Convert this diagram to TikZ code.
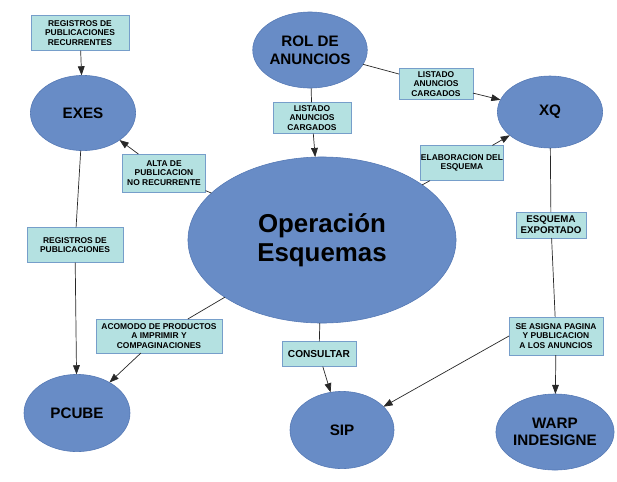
\documentclass[tikz,border=0pt]{standalone}
\usepackage{fontspec}
\setmainfont{Liberation Sans}
\definecolor{ovalblue}{RGB}{104, 140, 198}
\definecolor{ovaledge}{RGB}{84, 120, 180}
\definecolor{tagfill}{RGB}{180, 225, 225}
\definecolor{tagedge}{RGB}{118, 158, 202}
\definecolor{wireclr}{RGB}{40, 40, 40}
\usetikzlibrary{shapes.geometric, arrows.meta, positioning}

\begin{document}
\begin{tikzpicture}[x=0.025cm, y=-0.025cm,
    oval/.style={draw=ovaledge, fill=ovalblue, ellipse, inner sep=0pt, outer sep=0pt, align=center,
      font=\fontsize{10.8}{12.5}\selectfont\bfseries},
    tag/.style={draw=tagedge, fill=tagfill, rectangle, inner sep=0pt, outer sep=0pt, align=center,
      font=\fontsize{6}{6.8}\selectfont\bfseries},
    wire/.style={draw=wireclr, line width=0.5pt},
    arr/.style={wire, -{Triangle[length=6.5pt, width=4.8pt]}}]
  \useasboundingbox (0, 0) rectangle (617, 481);

  % Systems
  \node[oval, minimum width=2.63cm, minimum height=1.88cm] (exes) at (83, 113) {EXES};
  \node[oval, minimum width=2.65cm, minimum height=1.9cm] (rol) at (310, 50) {ROL DE\\ANUNCIOS};
  \node[oval, minimum width=2.63cm, minimum height=1.8cm] (xq) at (550, 112) {XQ};
  \node[oval, minimum width=6.7cm, minimum height=4.15cm, font=\fontsize{18.4}{20.5}\selectfont\bfseries] (oper) at (322, 240) {Operación\\Esquemas};
  \node[oval, minimum width=2.65cm, minimum height=1.93cm] (pcube) at (77, 413) {PCUBE};
  \node[oval, minimum width=2.6cm, minimum height=1.93cm] (sip) at (342, 430) {SIP};
  \node[oval, minimum width=2.63cm, minimum height=1.9cm] (warp) at (555, 432) {WARP\\INDESIGNE};

  % Flow labels
  \node[tag, minimum width=2.45cm, minimum height=0.88cm] (regrec) at (80, 33) {REGISTROS DE\\PUBLICACIONES\\RECURRENTES};
  \node[tag, minimum width=2.08cm, minimum height=0.95cm] (alta) at (164, 173) {ALTA DE\\PUBLICACION\\NO RECURRENTE};
  \node[tag, minimum width=1.95cm, minimum height=0.78cm] (lstmid) at (312, 118) {LISTADO\\ANUNCIOS\\CARGADOS};
  \node[tag, minimum width=1.85cm, minimum height=0.78cm] (lstxq) at (436, 84) {LISTADO\\ANUNCIOS\\CARGADOS};
  \node[tag, minimum width=2.08cm, minimum height=0.88cm] (elab) at (462, 163) {ELABORACION DEL\\ESQUEMA};
  \node[tag, minimum width=1.75cm, minimum height=0.65cm, font=\fontsize{6.9}{7.8}\selectfont\bfseries] (esqexp) at (551, 225) {ESQUEMA\\EXPORTADO};
  \node[tag, minimum width=2.4cm, minimum height=0.88cm] (regpub) at (75, 245) {REGISTROS DE\\PUBLICACIONES};
  \node[tag, minimum width=3.15cm, minimum height=0.85cm] (acomodo) at (159, 336) {ACOMODO DE PRODUCTOS\\A IMPRIMIR Y\\COMPAGINACIONES};
  \node[tag, minimum width=1.85cm, minimum height=0.63cm, font=\fontsize{7.2}{8}\selectfont\bfseries] (consultar) at (319, 354) {CONSULTAR};
  \node[tag, minimum width=2.35cm, minimum height=0.95cm] (asigna) at (556, 336) {SE ASIGNA PAGINA\\Y PUBLICACION\\A LOS ANUNCIOS};

  % Connectors
  \draw[arr] (regrec) -- (exes);
  \draw[arr] (oper) -- (alta) -- (exes);
  \draw[arr] (rol) -- (lstmid) -- (oper);
  \draw[arr] (rol) -- (lstxq) -- (xq);
  \draw[arr] (oper) -- (elab) -- (xq);
  \draw[arr] (exes) -- (regpub) -- (pcube);
  \draw[arr] (oper) -- (acomodo) -- (pcube);
  \draw[arr] (oper) -- (consultar) -- (sip);
  \draw[arr] (xq) -- (esqexp) -- (asigna) -- (warp);
  \draw[arr] (asigna.west) -- (sip);
\end{tikzpicture}
\end{document}
